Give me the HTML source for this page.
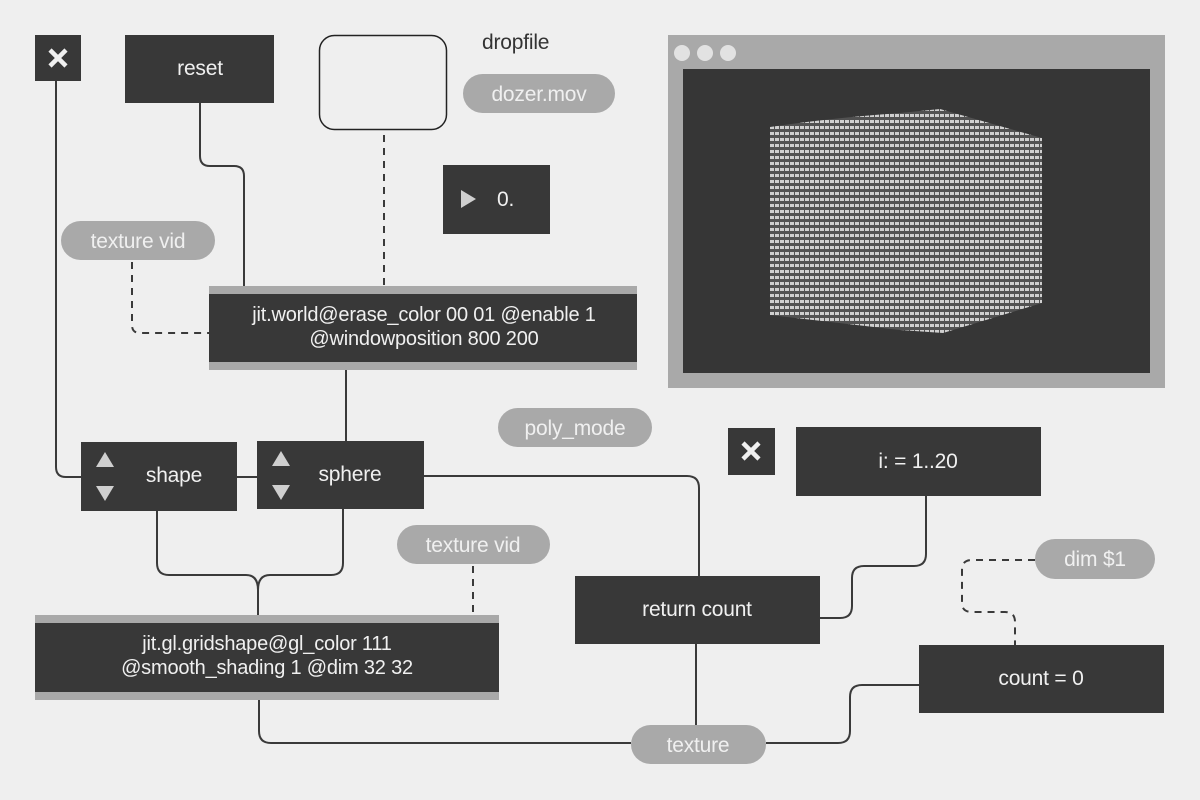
<!DOCTYPE html>
<html><head><meta charset="utf-8"><style>
body{margin:0;background:#efefef;}
svg{display:block;}
text{font-family:"Liberation Sans",sans-serif;letter-spacing:-0.2px;}
</style></head><body>
<svg width="1200" height="800" viewBox="0 0 1200 800" xmlns="http://www.w3.org/2000/svg">
<defs>
<pattern id="grid" width="5" height="6" patternUnits="userSpaceOnUse">
<rect width="5" height="6" fill="#555"/>
<rect x="0" y="0" width="4" height="3" fill="#e0e0e0"/>
</pattern>
</defs>
<rect width="1200" height="800" fill="#efefef"/>
<g fill="none" stroke="#3a3a3a" stroke-width="2">
<path d="M56 81 V467 Q56 477 66 477 H81"/>
<path d="M200 103 V156 Q200 166 210 166 H234 Q244 166 244 176 V286"/>
<path d="M346 370 V441"/>
<path d="M237 477 H257"/>
<path d="M424 476 H687 Q699 476 699 488 V576"/>
<path d="M157 511 V563 Q157 575 169 575 H246 Q258 575 258 590 Q258 575 270 575 H331 Q343 575 343 563 V509"/>
<path d="M258 588 V615"/>
<path d="M259 700 V731 Q259 743 271 743 H631"/>
<path d="M696 644 V725"/>
<path d="M926 496 V554 Q926 566 914 566 H864 Q852 566 852 578 V606 Q852 618 840 618 H820"/>
<path d="M919 685 H862 Q850 685 850 697 V731 Q850 743 838 743 H766"/>
</g>
<g fill="none" stroke="#3a3a3a" stroke-width="2" stroke-dasharray="7,6">
<path d="M384 135 V286"/>
<path d="M132 262 V325 Q132 333 140 333 H209"/>
<path d="M473 566 V614"/>
<path d="M1035 560 H972 Q962 560 962 570 V603 Q962 612 972 612 H1005 Q1015 612 1015 622 V645"/>
</g>
<rect x="35" y="35" width="46" height="46" fill="#383838"/>
<path d="M50 50 L66 66 M66 50 L50 66" stroke="#f0f0f0" stroke-width="4.5"/>
<rect x="125" y="35" width="149" height="68" fill="#383838"/>
<text x="200" y="75" font-size="21" fill="#f0f0f0" text-anchor="middle">reset</text>
<rect x="319.5" y="35.5" width="127" height="94" rx="15" fill="none" stroke="#222" stroke-width="1.5"/>
<text x="482" y="49" font-size="21" fill="#333">dropfile</text>
<rect x="463" y="74" width="152" height="39" rx="19.5" fill="#a9a9a9"/>
<text x="539" y="101" font-size="21" fill="#f0f0f0" text-anchor="middle">dozer.mov</text>
<rect x="443" y="165" width="107" height="69" fill="#383838"/>
<path d="M461 190 L476 199 L461 208 Z" fill="#cfcfcf"/>
<text x="497" y="206" font-size="21" fill="#f0f0f0">0.</text>
<rect x="61" y="221" width="154" height="39" rx="19.5" fill="#a9a9a9"/>
<text x="138" y="248" font-size="21" fill="#f0f0f0" text-anchor="middle">texture vid</text>
<rect x="209" y="286" width="428" height="84" fill="#383838"/>
<rect x="209" y="286" width="428" height="8" fill="#a9a9a9"/>
<rect x="209" y="362" width="428" height="8" fill="#a9a9a9"/>
<text x="424" y="321" font-size="20" fill="#f0f0f0" text-anchor="middle">jit.world@erase_color 00 01 @enable 1</text>
<text x="424" y="345" font-size="20" fill="#f0f0f0" text-anchor="middle">@windowposition 800 200</text>
<rect x="668" y="35" width="497" height="353" fill="#a9a9a9"/>
<circle cx="682" cy="53" r="8" fill="#e2e2e2"/>
<circle cx="705" cy="53" r="8" fill="#e2e2e2"/>
<circle cx="728" cy="53" r="8" fill="#e2e2e2"/>
<rect x="683" y="69" width="467" height="304" fill="#363636"/>
<path d="M770 127 Q830 118 900 113 L940 109 L1042 138 L1042 303 L943 333 L900 330 Q830 322 770 315 Z" fill="url(#grid)" opacity="0.9"/>
<rect x="498" y="408" width="154" height="39" rx="19.5" fill="#a9a9a9"/>
<text x="575" y="435" font-size="21" fill="#f0f0f0" text-anchor="middle">poly_mode</text>
<rect x="81" y="442" width="156" height="69" fill="#383838"/>
<path d="M105 452 L114 467 L96 467 Z M105 501 L114 486 L96 486 Z" fill="#cfcfcf"/>
<text x="174" y="482" font-size="21" fill="#f0f0f0" text-anchor="middle">shape</text>
<rect x="257" y="441" width="167" height="68" fill="#383838"/>
<path d="M281 451 L290 466 L272 466 Z M281 500 L290 485 L272 485 Z" fill="#cfcfcf"/>
<text x="350" y="481" font-size="21" fill="#f0f0f0" text-anchor="middle">sphere</text>
<rect x="728" y="428" width="47" height="47" fill="#383838"/>
<path d="M743 443 L759 459 M759 443 L743 459" stroke="#f0f0f0" stroke-width="4.5"/>
<rect x="796" y="427" width="245" height="69" fill="#383838"/>
<text x="918" y="468" font-size="21" fill="#f0f0f0" text-anchor="middle">i: = 1..20</text>
<rect x="397" y="525" width="153" height="39" rx="19.5" fill="#a9a9a9"/>
<text x="473" y="552" font-size="21" fill="#f0f0f0" text-anchor="middle">texture vid</text>
<rect x="1035" y="539" width="120" height="40" rx="20" fill="#a9a9a9"/>
<text x="1095" y="566" font-size="21" fill="#f0f0f0" text-anchor="middle">dim $1</text>
<rect x="575" y="576" width="245" height="68" fill="#383838"/>
<text x="697" y="616" font-size="21" fill="#f0f0f0" text-anchor="middle">return count</text>
<rect x="35" y="615" width="464" height="85" fill="#383838"/>
<rect x="35" y="615" width="464" height="8" fill="#a9a9a9"/>
<rect x="35" y="692" width="464" height="8" fill="#a9a9a9"/>
<text x="267" y="650" font-size="20" fill="#f0f0f0" text-anchor="middle">jit.gl.gridshape@gl_color 111</text>
<text x="267" y="674" font-size="20" fill="#f0f0f0" text-anchor="middle">@smooth_shading 1 @dim 32 32</text>
<rect x="919" y="645" width="245" height="68" fill="#383838"/>
<text x="1041" y="685" font-size="21" fill="#f0f0f0" text-anchor="middle">count = 0</text>
<rect x="631" y="725" width="135" height="39" rx="19.5" fill="#a9a9a9"/>
<text x="698" y="752" font-size="21" fill="#f0f0f0" text-anchor="middle">texture</text>
</svg>
</body></html>
